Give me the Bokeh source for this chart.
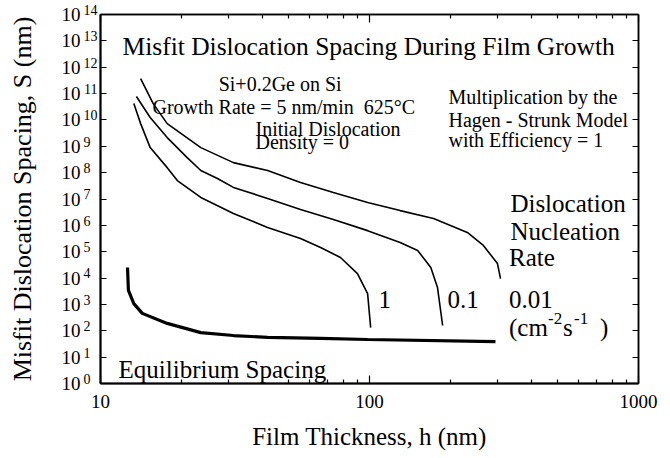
from bokeh.plotting import figure
from bokeh.models import (FixedTicker, LogAxis, Label, CustomJSTickFormatter)
from bokeh.embed import file_html
from bokeh.resources import INLINE

# ---- data ----
h_rate_001 = [14.1, 15.7, 17.7, 23.6, 31.2, 41.8, 55.4, 73.4, 98.4, 130, 173, 231, 265, 299, 307]
S_rate_001 = [10**11.57, 10**10.62, 10**9.86, 10**8.95, 10**8.38, 10**8.08, 10**7.63, 10**7.25,
              10**6.87, 10**6.56, 10**6.26, 10**5.73, 10**5.24, 10**4.55, 10**3.98]

h_rate_01 = [13.6, 15.3, 17.7, 21.0, 23.6, 27.2, 31.2, 41.8, 55.4, 73.4, 98.4, 130, 151, 169, 179, 187]
S_rate_01 = [10**10.89, 10**10.09, 10**9.33, 10**8.57, 10**8.08, 10**7.78, 10**7.44, 10**7.02,
             10**6.60, 10**6.22, 10**5.80, 10**5.35, 10**5.05, 10**4.40, 10**3.64, 10**2.20]

h_rate_1 = [13.3, 14.1, 15.3, 17.7, 19.3, 23.6, 31.2, 41.8, 55.4, 65.8, 78.0, 90.2, 98.4, 101]
S_rate_1 = [10**10.62, 10**9.86, 10**8.95, 10**8.19, 10**7.70, 10**7.06, 10**6.45, 10**5.92,
            10**5.50, 10**5.16, 10**4.78, 10**4.17, 10**3.41, 10**2.12]

h_equil = [12.6, 12.7, 13.3, 14.3, 17.7, 23.6, 31.2, 41.8, 65.8, 98.4, 294]
S_equil = [10**4.40, 10**3.53, 10**3.03, 10**2.66, 10**2.28, 10**1.93, 10**1.82, 10**1.75,
           10**1.71, 10**1.67, 10**1.59]

x_major = [10, 100, 1000]
x_minor = [20, 30, 40, 50, 60, 70, 80, 90, 200, 300, 400, 500, 600, 700, 800, 900]
y_exponents = list(range(15))
y_major = [10**i for i in y_exponents]

FONT = "Liberation Serif"

p = figure(width=670, height=458, x_axis_type="log", y_axis_type="log",
           x_range=(10, 1000), y_range=(1, 1e14),
           output_backend="svg", toolbar_location=None,
           min_border_left=100, min_border_right=32, min_border_top=14, min_border_bottom=75)
p.grid.visible = False
p.background_fill_color = "white"
p.border_fill_color = "white"
p.outline_line_color = "black"
p.outline_line_width = 1.5

xfmt = CustomJSTickFormatter(code="return String(Math.round(tick));")
blank = CustomJSTickFormatter(code="return '';")
expfmt = CustomJSTickFormatter(code=r"""
const s = String(Math.round(Math.log10(tick)));
return (s.length < 2 ? s + '\u2007' : s) + '\n\u00a0';
""")
tenfmt = CustomJSTickFormatter(code="return '10';")

def style_x(ax, labels=True):
    ax.ticker = FixedTicker(ticks=x_major, minor_ticks=x_minor)
    ax.major_tick_in = 8
    ax.major_tick_out = 0
    ax.minor_tick_in = 4
    ax.minor_tick_out = 0
    ax.axis_line_color = "black"
    ax.axis_line_width = 2
    ax.major_tick_line_width = 1.2
    ax.minor_tick_line_width = 1.2
    ax.major_label_text_font = FONT
    ax.major_label_text_font_size = "19px"
    ax.major_label_text_color = "black"
    ax.formatter = xfmt if labels else blank

def style_y(ax):
    ax.ticker = FixedTicker(ticks=y_major)
    ax.major_tick_in = 6
    ax.major_tick_out = 0
    ax.minor_tick_line_color = None
    ax.axis_line_color = "black"
    ax.axis_line_width = 2
    ax.major_tick_line_width = 1.2
    ax.major_label_standoff = 0
    ax.formatter = blank

style_x(p.xaxis[0])
p.xaxis[0].major_label_standoff = 11
p.xaxis[0].axis_label = "Film Thickness, h (nm)"
p.xaxis[0].axis_label_text_font = FONT
p.xaxis[0].axis_label_text_font_size = "25px"
p.xaxis[0].axis_label_text_font_style = "normal"
p.xaxis[0].axis_label_text_color = "black"
p.xaxis[0].axis_label_standoff = 12

# left axis: ticks + raised exponents; an outer axis adds the "10"
style_y(p.yaxis[0])
p.yaxis[0].formatter = expfmt
p.yaxis[0].major_label_standoff = 3
p.yaxis[0].major_label_text_font = FONT
p.yaxis[0].major_label_text_font_size = "14px"
p.yaxis[0].major_label_text_line_height = 0.55
p.yaxis[0].major_label_text_color = "black"

ten_axis = LogAxis(ticker=FixedTicker(ticks=y_major), formatter=tenfmt,
                   axis_line_color=None, major_tick_line_color=None, minor_tick_line_color=None,
                   major_label_standoff=-6, major_label_text_font=FONT,
                   major_label_text_font_size="19px", major_label_text_color="black",
                   axis_label="Misfit Dislocation Spacing, S (nm)",
                   axis_label_text_font=FONT, axis_label_text_font_size="26px",
                   axis_label_text_font_style="normal", axis_label_text_color="black",
                   axis_label_standoff=22)
p.add_layout(ten_axis, "left")

top = LogAxis()
style_x(top, labels=False)
top.axis_line_width = 1.5
p.add_layout(top, "above")
right = LogAxis()
style_y(right)
right.axis_line_width = 1.5
p.add_layout(right, "right")

# curves
p.line(h_rate_001, S_rate_001, line_color="black", line_width=1.6)
p.line(h_rate_01, S_rate_01, line_color="black", line_width=1.6)
p.line(h_rate_1, S_rate_1, line_color="black", line_width=1.6)
p.line(h_equil, S_equil, line_color="black", line_width=3.2)

# annotations
def lab(x, y, t, size, xo=0, yo=0):
    p.add_layout(Label(x=x, y=y, x_offset=xo, y_offset=yo, text=t, text_font=FONT,
                       text_font_size=size, text_color="black",
                       text_baseline="alphabetic", text_align="left"))

NB = "\u00a0"
lab(12.07, 10**12.80, "Misfit Dislocation Spacing During Film Growth", "25.5px")
lab(27.5, 10**11.37, "Si+0.2Ge on Si", "20px")
lab(15.6, 10**10.48, "Growth Rate = 5 nm/min" + NB + NB + "625\u00b0C", "20px")
lab(37.7, 10**9.66, "Initial Dislocation", "20px")
lab(37.7, 10**9.15, "Density = 0", "20px")
lab(196.7, 10**10.86, "Multiplication by the", "20px")
lab(196.7, 10**9.98, "Hagen - Strunk Model", "20px")
lab(196.7, 10**9.22, "with Efficiency = 1", "20px")
lab(334, 10**6.83, "Dislocation", "25px")
lab(334, 10**5.78, "Nucleation", "25px")
lab(330, 10**4.78, "Rate", "25px")
lab(330, 10**3.19, "0.01", "25px")
lab(195, 10**3.19, "0.1", "25px")
lab(108, 10**3.19, "1", "25px")
# (cm^-2 s^-1 )
lab(330, 10**2.12, "(cm", "25px")
lab(330, 10**2.12, "-2", "17px", xo=39, yo=9)
lab(330, 10**2.12, "s", "25px", xo=54)
lab(330, 10**2.12, "-1", "17px", xo=65, yo=9)
lab(330, 10**2.12, ")", "25px", xo=91)
lab(11.67, 10**0.53, "Equilibrium Spacing", "25px")

open("out.html", "w").write(file_html(p, INLINE))
